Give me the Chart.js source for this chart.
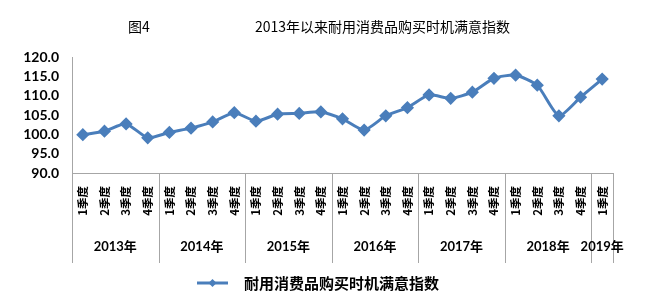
<!DOCTYPE html>
<html>
<head>
<meta charset="utf-8">
<script src="https://cdn.jsdelivr.net/npm/chart.js@4.4.1/dist/chart.umd.min.js"></script>
<style>
  html, body { margin: 0; padding: 0; background: #fff; }
  #wrap { width: 647px; height: 296px; position: relative; }
</style>
</head>
<body>
<div id="wrap"><canvas id="chart" width="647" height="296"></canvas></div>
<script>
// data
const figLabel = '图4';
const chartTitle = '2013年以来耐用消费品购买时机满意指数';
const seriesName = '耐用消费品购买时机满意指数';
const quarters = [
    '1季度', '2季度', '3季度', '4季度',
    '1季度', '2季度', '3季度', '4季度',
    '1季度', '2季度', '3季度', '4季度',
    '1季度', '2季度', '3季度', '4季度',
    '1季度', '2季度', '3季度', '4季度',
    '1季度', '2季度', '3季度', '4季度',
    '1季度'
];
const years = ['2013年', '2014年', '2015年', '2016年', '2017年', '2018年', '2019年'];
const yearSpans = [4, 4, 4, 4, 4, 4, 1];
const indexValues = [
    99.9, 100.8, 102.7, 99.1,
    100.5, 101.6, 103.2, 105.6,
    103.4, 105.2, 105.4, 105.8,
    104.0, 101.1, 104.8, 106.9,
    110.2, 109.3, 110.9, 114.5,
    115.3, 112.7, 104.8, 109.6,
    114.3
];
const yTicks = [90, 95, 100, 105, 110, 115, 120];

const BLUE = '#4A7EBB';
const GRAY = '#A6A6A6';
const CJK = "'Noto Sans CJK SC', sans-serif";

// titles, year row and legend
const extras = {
    id: 'extras',
    afterDraw(chart) {
        const ctx = chart.ctx;
        const x = chart.scales.x;
        const area = chart.chartArea;
        const catW = (area.right - area.left) / quarters.length;

        ctx.save();
        ctx.fillStyle = '#000';
        ctx.textBaseline = 'middle';
        ctx.font = '14px ' + CJK;
        ctx.textAlign = 'left';
        ctx.fillText(figLabel, 128, 27);
        ctx.fillText(chartTitle, 255, 27);

        // year group separators and labels
        ctx.strokeStyle = GRAY;
        ctx.lineWidth = 1;
        ctx.font = "bold 13px Lato, " + CJK;
        ctx.textAlign = 'center';
        let start = 0;
        years.forEach((yr, i) => {
            const left = x.getPixelForValue(start) - catW / 2;
            const right = x.getPixelForValue(start + yearSpans[i] - 1) + catW / 2;
            ctx.beginPath();
            ctx.moveTo(Math.round(left) + 0.5, area.bottom);
            ctx.lineTo(Math.round(left) + 0.5, 263);
            ctx.stroke();
            if (i === years.length - 1) {
                ctx.beginPath();
                ctx.moveTo(Math.round(right) + 0.5, area.bottom);
                ctx.lineTo(Math.round(right) + 0.5, 263);
                ctx.stroke();
            }
            ctx.fillText(yr, (left + right) / 2, 247);
            start += yearSpans[i];
        });

        // legend
        ctx.strokeStyle = BLUE;
        ctx.lineWidth = 3;
        ctx.beginPath();
        ctx.moveTo(197, 283);
        ctx.lineTo(228, 283);
        ctx.stroke();
        ctx.fillStyle = BLUE;
        ctx.beginPath();
        ctx.moveTo(212.5, 279);
        ctx.lineTo(216.5, 283);
        ctx.lineTo(212.5, 287);
        ctx.lineTo(208.5, 283);
        ctx.closePath();
        ctx.fill();
        ctx.fillStyle = '#000';
        ctx.textAlign = 'left';
        ctx.font = 'bold 15px ' + CJK;
        ctx.fillText(seriesName, 244, 283);
        ctx.restore();
    }
};

new Chart(document.getElementById('chart'), {
    type: 'line',
    data: {
        labels: quarters,
        datasets: [{
            label: seriesName,
            data: indexValues,
            borderColor: BLUE,
            backgroundColor: BLUE,
            borderWidth: 3,
            tension: 0.2,
            pointStyle: 'rectRot',
            pointRadius: 4.5,
            pointHoverRadius: 4.5,
            fill: false
        }]
    },
    options: {
        responsive: false,
        animation: false,
        events: [],
        layout: { padding: { top: 57, right: 34, bottom: 0, left: 0 } },
        plugins: {
            legend: { display: false },
            title: { display: false },
            tooltip: { enabled: false }
        },
        scales: {
            x: {
                offset: true,
                grid: { display: false, drawTicks: false },
                border: { display: true, color: GRAY, width: 1 },
                afterFit: s => { s.height = 123; },
                ticks: {
                    minRotation: 90,
                    maxRotation: 90,
                    autoSkip: false,
                    padding: 13,
                    color: '#000',
                    font: { family: CJK, size: 11.5, weight: 'bold' }
                }
            },
            y: {
                min: 90,
                max: 120,
                afterFit: s => { s.width = 72; },
                afterBuildTicks: s => { s.ticks = yTicks.map(v => ({ value: v })); },
                grid: { display: false, drawTicks: false },
                border: { display: true, color: GRAY, width: 1 },
                ticks: {
                    autoSkip: false,
                    padding: 13,
                    color: '#000',
                    font: { family: 'Lato', size: 14, weight: 'bold' },
                    callback: v => v.toFixed(1)
                }
            }
        }
    },
    plugins: [extras]
});
</script>
</body>
</html>
